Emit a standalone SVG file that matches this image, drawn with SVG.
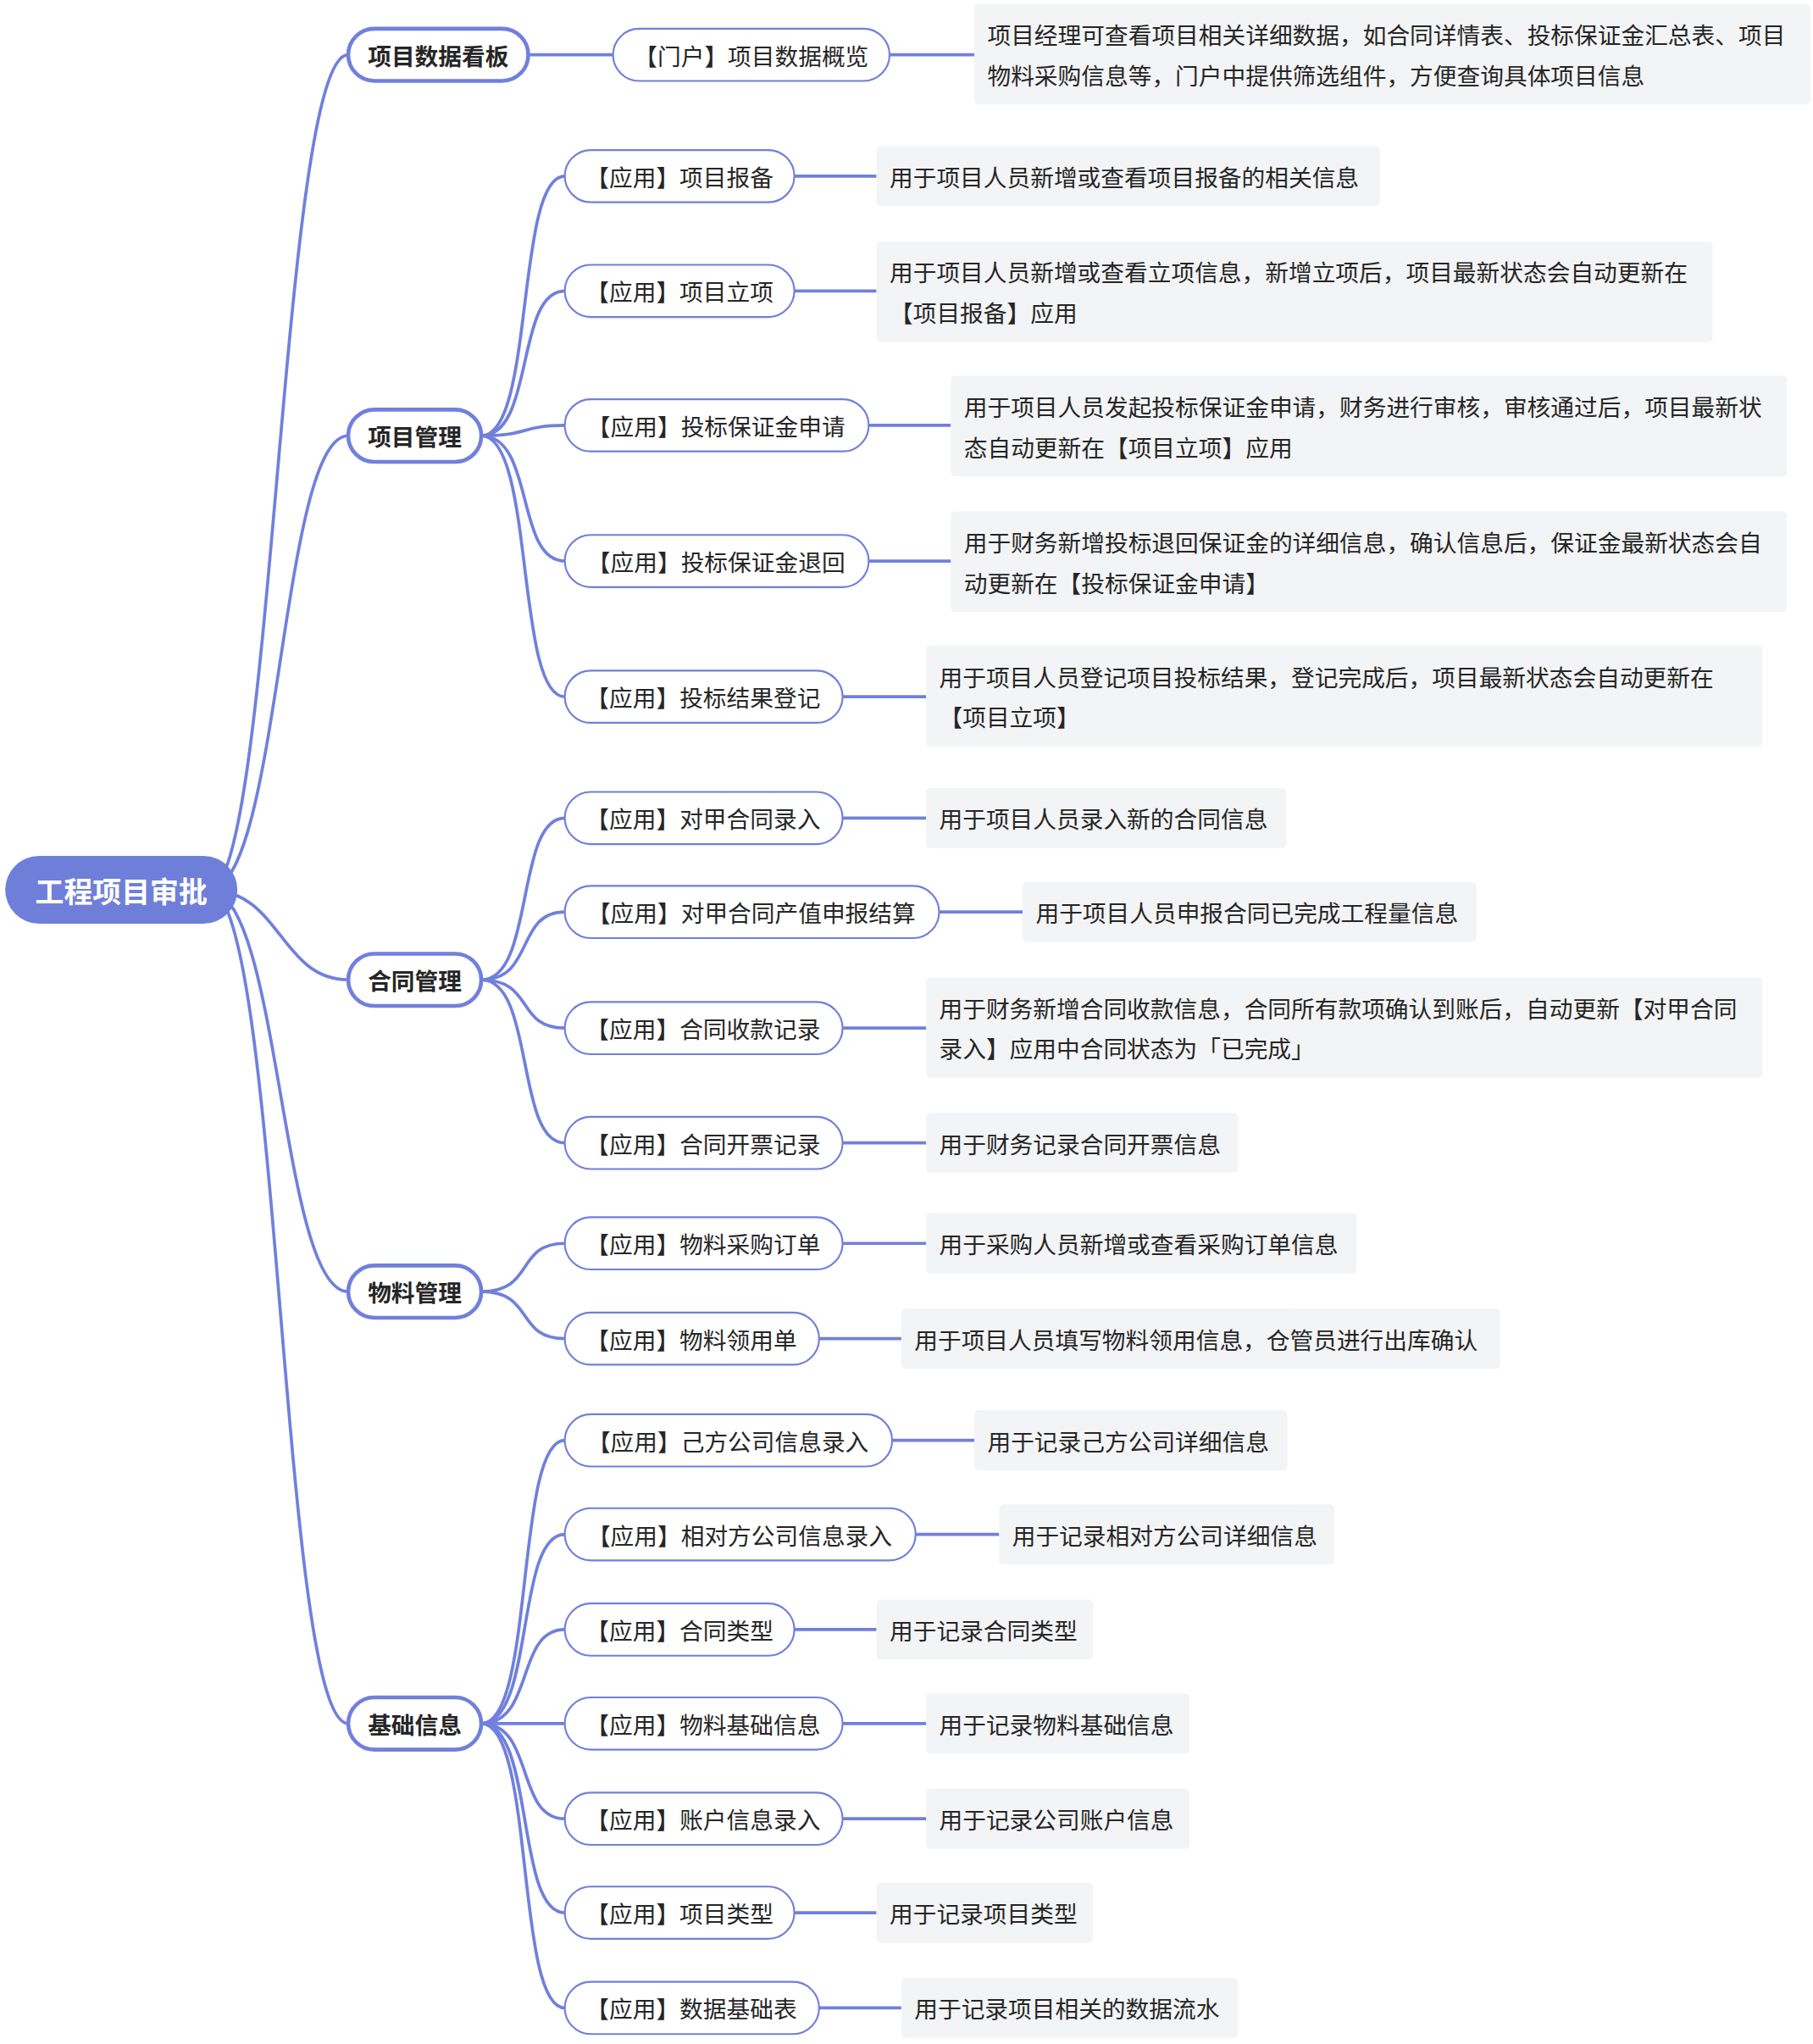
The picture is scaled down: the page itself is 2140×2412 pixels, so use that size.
<svg xmlns="http://www.w3.org/2000/svg" width="2140" height="2412" viewBox="0 0 2140 2412">
<style>
text{font-family:"Noto Sans CJK SC","Noto Sans",sans-serif;font-size:18px;fill:#262626;dominant-baseline:central}
.l1 text{font-weight:bold;text-anchor:middle}
.l1 rect{fill:#fff;stroke:#7080dc;stroke-width:3}
.l2 rect{fill:#fff;stroke:#7080dc;stroke-width:1.4}
.l2 text{text-anchor:middle}
.l3 rect{fill:#f3f4f5}
#edges path{fill:none;stroke:#7080dc;stroke-width:2.4}
</style>
<rect width="2140" height="2412" fill="#fff"/>
<g transform="scale(1.5396)">
<g id="edges">
<path d="M160 682 C210 682 215 42 267 42"/>
<path d="M160 682 C215 682 215 334 267 334"/>
<path d="M160 682 C215 682 215 751 267 751"/>
<path d="M160 682 C215 682 215 990 267 990"/>
<path d="M160 682 C215 682 215 1321 267 1321"/>
<path d="M405 42H470"/><path d="M682 42H747"/>
<path d="M369 334C410 334 395 135 433 135"/><path d="M369 334C410 334 395 223 433 223"/><path d="M369 334C405 334 400 326 433 326"/><path d="M369 334C410 334 395 430 433 430"/><path d="M369 334C410 334 395 534 433 534"/>
<path d="M609 135H672"/><path d="M609 223H672"/><path d="M666 326H729"/><path d="M666 430H729"/><path d="M646 534H710"/>
<path d="M369 751C410 751 395 627 433 627"/><path d="M369 751C410 751 395 699 433 699"/><path d="M369 751C410 751 395 788 433 788"/><path d="M369 751C410 751 395 876 433 876"/>
<path d="M646 627H710"/><path d="M720 699H784"/><path d="M646 788H710"/><path d="M646 876H710"/>
<path d="M369 990C410 990 395 953 433 953"/><path d="M369 990C410 990 395 1026 433 1026"/>
<path d="M646 953H710"/><path d="M628 1026H691"/>
<path d="M369 1321C410 1321 395 1104 433 1104"/><path d="M369 1321C410 1321 395 1176 433 1176"/><path d="M369 1321C410 1321 395 1249 433 1249"/><path d="M369 1321H433"/><path d="M369 1321C410 1321 395 1394 433 1394"/><path d="M369 1321C410 1321 395 1466 433 1466"/><path d="M369 1321C410 1321 395 1539 433 1539"/>
<path d="M684 1104H747"/><path d="M702 1176H766"/><path d="M609 1249H672"/><path d="M646 1321H710"/><path d="M646 1394H710"/><path d="M609 1466H672"/><path d="M628 1539H691"/>
</g>
<g id="root"><rect x="4" y="656" width="178" height="52" rx="26" fill="#6f7fd9"/><text x="93" y="682" style="fill:#fff;font-size:22px;font-weight:bold;text-anchor:middle">工程项目审批</text></g>
<g id="n1" class="l1"><rect x="267" y="22" width="138" height="40" rx="20"/><text x="336" y="42">项目数据看板</text></g>
<g id="n2" class="l1"><rect x="267" y="314" width="102" height="40" rx="20"/><text x="318" y="334">项目管理</text></g>
<g id="n3" class="l1"><rect x="267" y="731" width="102" height="40" rx="20"/><text x="318" y="751">合同管理</text></g>
<g id="n4" class="l1"><rect x="267" y="970" width="102" height="40" rx="20"/><text x="318" y="990">物料管理</text></g>
<g id="n5" class="l1"><rect x="267" y="1301" width="102" height="40" rx="20"/><text x="318" y="1321">基础信息</text></g>
<g id="a0" class="l2"><rect x="470" y="22" width="212" height="40" rx="20"/><text x="576" y="42">【门户】项目数据概览</text></g>
<g id="a1" class="l2"><rect x="433" y="115" width="176" height="40" rx="20"/><text x="521" y="135">【应用】项目报备</text></g>
<g id="a2" class="l2"><rect x="433" y="203" width="176" height="40" rx="20"/><text x="521" y="223">【应用】项目立项</text></g>
<g id="a3" class="l2"><rect x="433" y="306" width="233" height="40" rx="20"/><text x="549" y="326">【应用】投标保证金申请</text></g>
<g id="a4" class="l2"><rect x="433" y="410" width="233" height="40" rx="20"/><text x="549" y="430">【应用】投标保证金退回</text></g>
<g id="a5" class="l2"><rect x="433" y="514" width="213" height="40" rx="20"/><text x="539" y="534">【应用】投标结果登记</text></g>
<g id="a6" class="l2"><rect x="433" y="607" width="213" height="40" rx="20"/><text x="539" y="627">【应用】对甲合同录入</text></g>
<g id="a7" class="l2"><rect x="433" y="679" width="287" height="40" rx="20"/><text x="576" y="699">【应用】对甲合同产值申报结算</text></g>
<g id="a8" class="l2"><rect x="433" y="768" width="213" height="40" rx="20"/><text x="539" y="788">【应用】合同收款记录</text></g>
<g id="a9" class="l2"><rect x="433" y="856" width="213" height="40" rx="20"/><text x="539" y="876">【应用】合同开票记录</text></g>
<g id="a10" class="l2"><rect x="433" y="933" width="213" height="40" rx="20"/><text x="539" y="953">【应用】物料采购订单</text></g>
<g id="a11" class="l2"><rect x="433" y="1006" width="195" height="40" rx="20"/><text x="530" y="1026">【应用】物料领用单</text></g>
<g id="a12" class="l2"><rect x="433" y="1084" width="251" height="40" rx="20"/><text x="558" y="1104">【应用】己方公司信息录入</text></g>
<g id="a13" class="l2"><rect x="433" y="1156" width="269" height="40" rx="20"/><text x="567" y="1176">【应用】相对方公司信息录入</text></g>
<g id="a14" class="l2"><rect x="433" y="1229" width="176" height="40" rx="20"/><text x="521" y="1249">【应用】合同类型</text></g>
<g id="a15" class="l2"><rect x="433" y="1301" width="213" height="40" rx="20"/><text x="539" y="1321">【应用】物料基础信息</text></g>
<g id="a16" class="l2"><rect x="433" y="1374" width="213" height="40" rx="20"/><text x="539" y="1394">【应用】账户信息录入</text></g>
<g id="a17" class="l2"><rect x="433" y="1446" width="176" height="40" rx="20"/><text x="521" y="1466">【应用】项目类型</text></g>
<g id="a18" class="l2"><rect x="433" y="1519" width="195" height="40" rx="20"/><text x="530" y="1539">【应用】数据基础表</text></g>
<g id="b0" class="l3"><rect x="747" y="3" width="641" height="77" rx="3"/><text x="757" y="26">项目经理可查看项目相关详细数据，如合同详情表、投标保证金汇总表、项目</text><text x="757" y="57">物料采购信息等，门户中提供筛选组件，方便查询具体项目信息</text></g>
<g id="b1" class="l3"><rect x="672" y="112" width="386" height="46" rx="3"/><text x="682" y="135">用于项目人员新增或查看项目报备的相关信息</text></g>
<g id="b2" class="l3"><rect x="672" y="185" width="641" height="77" rx="3"/><text x="682" y="208">用于项目人员新增或查看立项信息，新增立项后，项目最新状态会自动更新在</text><text x="682" y="239">【项目报备】应用</text></g>
<g id="b3" class="l3"><rect x="729" y="288" width="641" height="77" rx="3"/><text x="739" y="311">用于项目人员发起投标保证金申请，财务进行审核，审核通过后，项目最新状</text><text x="739" y="342">态自动更新在【项目立项】应用</text></g>
<g id="b4" class="l3"><rect x="729" y="392" width="641" height="77" rx="3"/><text x="739" y="415">用于财务新增投标退回保证金的详细信息，确认信息后，保证金最新状态会自</text><text x="739" y="446">动更新在【投标保证金申请】</text></g>
<g id="b5" class="l3"><rect x="710" y="495" width="641" height="77" rx="3"/><text x="720" y="518">用于项目人员登记项目投标结果，登记完成后，项目最新状态会自动更新在</text><text x="720" y="549">【项目立项】</text></g>
<g id="b6" class="l3"><rect x="710" y="604" width="276" height="46" rx="3"/><text x="720" y="627">用于项目人员录入新的合同信息</text></g>
<g id="b7" class="l3"><rect x="784" y="676" width="348" height="46" rx="3"/><text x="794" y="699">用于项目人员申报合同已完成工程量信息</text></g>
<g id="b8" class="l3"><rect x="710" y="749" width="641" height="77" rx="3"/><text x="720" y="772">用于财务新增合同收款信息，合同所有款项确认到账后，自动更新【对甲合同</text><text x="720" y="803">录入】应用中合同状态为「已完成」</text></g>
<g id="b9" class="l3"><rect x="710" y="853" width="239" height="46" rx="3"/><text x="720" y="876">用于财务记录合同开票信息</text></g>
<g id="b10" class="l3"><rect x="710" y="930" width="330" height="46" rx="3"/><text x="720" y="953">用于采购人员新增或查看采购订单信息</text></g>
<g id="b11" class="l3"><rect x="691" y="1003" width="459" height="46" rx="3"/><text x="701" y="1026">用于项目人员填写物料领用信息，仓管员进行出库确认</text></g>
<g id="b12" class="l3"><rect x="747" y="1081" width="240" height="46" rx="3"/><text x="757" y="1104">用于记录己方公司详细信息</text></g>
<g id="b13" class="l3"><rect x="766" y="1153" width="257" height="46" rx="3"/><text x="776" y="1176">用于记录相对方公司详细信息</text></g>
<g id="b14" class="l3"><rect x="672" y="1226" width="166" height="46" rx="3"/><text x="682" y="1249">用于记录合同类型</text></g>
<g id="b15" class="l3"><rect x="710" y="1298" width="202" height="46" rx="3"/><text x="720" y="1321">用于记录物料基础信息</text></g>
<g id="b16" class="l3"><rect x="710" y="1371" width="202" height="46" rx="3"/><text x="720" y="1394">用于记录公司账户信息</text></g>
<g id="b17" class="l3"><rect x="672" y="1443" width="166" height="46" rx="3"/><text x="682" y="1466">用于记录项目类型</text></g>
<g id="b18" class="l3"><rect x="691" y="1516" width="258" height="46" rx="3"/><text x="701" y="1539">用于记录项目相关的数据流水</text></g>
</g>
</svg>
